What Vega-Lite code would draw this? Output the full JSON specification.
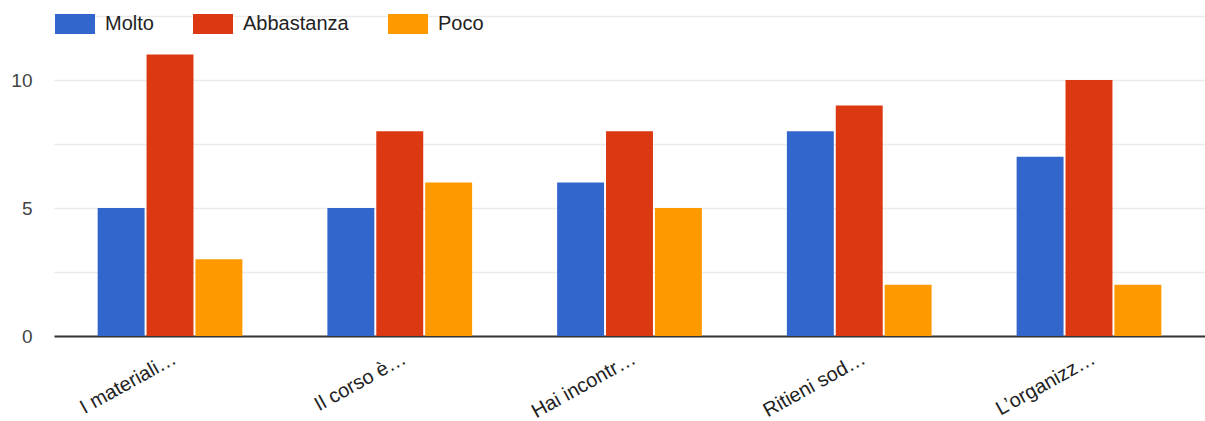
{
  "$schema": "https://vega.github.io/schema/vega-lite/v6.json",
  "width": 1151,
  "height": 320,
  "autosize": {"type": "none"},
  "padding": {"left": 54, "top": 16, "right": 0, "bottom": 85},
  "background": "white",
  "config": {
    "view": {"stroke": null},
    "font": "Liberation Sans"
  },
  "data": {
    "values": [
      {"domanda": "I materiali…", "risposta": "Molto", "conteggio": 5},
      {"domanda": "I materiali…", "risposta": "Abbastanza", "conteggio": 11},
      {"domanda": "I materiali…", "risposta": "Poco", "conteggio": 3},
      {"domanda": "Il corso è…", "risposta": "Molto", "conteggio": 5},
      {"domanda": "Il corso è…", "risposta": "Abbastanza", "conteggio": 8},
      {"domanda": "Il corso è…", "risposta": "Poco", "conteggio": 6},
      {"domanda": "Hai incontr…", "risposta": "Molto", "conteggio": 6},
      {"domanda": "Hai incontr…", "risposta": "Abbastanza", "conteggio": 8},
      {"domanda": "Hai incontr…", "risposta": "Poco", "conteggio": 5},
      {"domanda": "Ritieni sod…", "risposta": "Molto", "conteggio": 8},
      {"domanda": "Ritieni sod…", "risposta": "Abbastanza", "conteggio": 9},
      {"domanda": "Ritieni sod…", "risposta": "Poco", "conteggio": 2},
      {"domanda": "L’organizz…", "risposta": "Molto", "conteggio": 7},
      {"domanda": "L’organizz…", "risposta": "Abbastanza", "conteggio": 10},
      {"domanda": "L’organizz…", "risposta": "Poco", "conteggio": 2}
    ]
  },
  "mark": {"type": "bar"},
  "encoding": {
    "x": {
      "field": "domanda",
      "type": "nominal",
      "sort": null,
      "scale": {"paddingInner": 0.37, "paddingOuter": 0.19},
      "axis": {
        "title": null,
        "labelAngle": -29,
        "labelAlign": "right",
        "labelBaseline": "top",
        "labelFontSize": 20,
        "labelColor": "#222222",
        "labelPadding": 12,
        "labelLimit": 300,
        "ticks": false,
        "domainColor": "#333333",
        "domainWidth": 2,
        "grid": false
      }
    },
    "xOffset": {
      "field": "risposta",
      "type": "nominal",
      "sort": ["Molto", "Abbastanza", "Poco"],
      "scale": {"paddingInner": 0.04}
    },
    "y": {
      "field": "conteggio",
      "type": "quantitative",
      "scale": {"domain": [0, 12.5], "nice": false},
      "axis": {
        "title": null,
        "values": [0, 2.5, 5, 7.5, 10, 12.5],
        "labelExpr": "datum.value % 5 == 0 && datum.value < 12 ? datum.label : ''",
        "labelFontSize": 19,
        "labelColor": "#444444",
        "labelPadding": 22,
        "ticks": false,
        "domain": false,
        "gridColor": "#ebebeb",
        "gridWidth": 1.5
      }
    },
    "color": {
      "field": "risposta",
      "type": "nominal",
      "sort": ["Molto", "Abbastanza", "Poco"],
      "scale": {"domain": ["Molto", "Abbastanza", "Poco"], "range": ["#3366cc", "#dc3912", "#ff9900"]},
      "legend": {
        "title": null,
        "orient": "none",
        "direction": "horizontal",
        "legendX": 1,
        "legendY": -12,
        "symbolType": "M-1,-0.5H1V0.5H-1Z",
        "symbolSize": 1600,
        "symbolStrokeWidth": 0,
        "symbolOpacity": 1,
        "labelFontSize": 20,
        "labelColor": "#222222",
        "labelOffset": 10,
        "labelLimit": 300,
        "columnPadding": 39
      }
    }
  }
}
